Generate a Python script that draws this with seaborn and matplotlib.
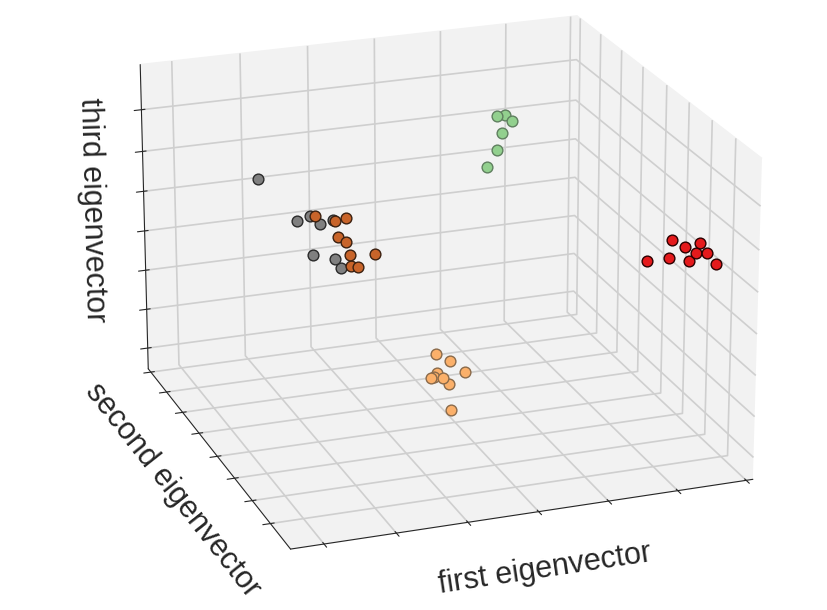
import numpy as np
import matplotlib
matplotlib.use("Agg")
import matplotlib.pyplot as plt
import seaborn as sns

# 3D 산점도 (첫째/둘째/셋째 고유벡터)
sns.set_style("ticks")
plt.rcParams['font.family'] = ['Liberation Sans', 'DejaVu Sans']

# 데이터 (축 범위 0~1 기준으로 읽은 값)
gray_x = [0.14, 0.21, 0.245, 0.27, 0.24, 0.30, 0.305, 0.31]
gray_y = [0.62, 0.58, 0.60, 0.61, 0.57, 0.60, 0.63, 0.59]
gray_z = [0.79, 0.665, 0.665, 0.63, 0.555, 0.515, 0.625, 0.49]

brown_x = [0.24, 0.28, 0.31, 0.29, 0.30, 0.32, 0.37, 0.33, 0.32]
brown_y = [0.55, 0.54, 0.56, 0.55, 0.53, 0.56, 0.55, 0.54, 0.56]
brown_z = [0.69, 0.67, 0.665, 0.615, 0.605, 0.51, 0.545, 0.515, 0.545]

orange_x = [0.415, 0.45, 0.475, 0.405, 0.425, 0.445, 0.445, 0.415, 0.43]
orange_y = [0.30, 0.31, 0.29, 0.30, 0.32, 0.30, 0.29, 0.31, 0.30]
orange_z = [0.35, 0.315, 0.285, 0.275, 0.275, 0.25, 0.17, 0.27, 0.27]

green_x = [0.70, 0.72, 0.73, 0.71, 0.70, 0.68]
green_y = [0.70, 0.71, 0.69, 0.70, 0.70, 0.71]
green_z = [0.855, 0.85, 0.84, 0.80, 0.745, 0.69]

red_x = [0.86, 0.91, 0.92, 0.94, 0.98, 0.97, 0.99, 0.96, 0.95]
red_y = [0.25, 0.25, 0.26, 0.24, 0.25, 0.25, 0.24, 0.26, 0.10]
red_z = [0.585, 0.585, 0.635, 0.62, 0.62, 0.59, 0.59, 0.56, 0.635]

x_ticks = [0.07, 0.2225, 0.375, 0.5275, 0.68, 0.8325, 0.985]
y_ticks = [0.13, 0.25, 0.37, 0.49, 0.62, 0.74, 0.86, 0.98]
z_ticks = [0.07, 0.20, 0.33, 0.46, 0.59, 0.72, 0.855]

groups = [
    (gray_x, gray_y, gray_z, '#808080', '#2a2a2a'),
    (brown_x, brown_y, brown_z, '#c8642a', '#3a2010'),
    (orange_x, orange_y, orange_z, '#fbb06a', '#8a6a4a'),
    (green_x, green_y, green_z, '#92d08e', '#5f7f5f'),
    (red_x, red_y, red_z, '#e41a1c', '#2a0000'),
]

fig = plt.figure(figsize=(8.28, 6.1), dpi=100)
ax = fig.add_axes([0.023, 0.0465, 1, 1], projection='3d')
ax.set_proj_type('persp', focal_length=1.3)
ax.view_init(elev=21, azim=-110)
ax.set_box_aspect((4, 4, 2.8), zoom=1.20)

for gx, gy, gz, fc, ec in groups:
    ax.scatter(gx, gy, gz, c=fc, edgecolors=ec, s=60, linewidths=1.0, depthshade=False)

ax.set_xlim(0, 1)
ax.set_ylim(0, 1)
ax.set_zlim(0, 1)
ax.set_xticks(x_ticks)
ax.set_yticks(y_ticks)
ax.set_zticks(z_ticks)
ax.set_xticklabels([])
ax.set_yticklabels([])
ax.set_zticklabels([])

for axis in (ax.xaxis, ax.yaxis, ax.zaxis):
    axis.set_pane_color((0.95, 0.95, 0.95, 1.0))
    axis._axinfo['grid']['color'] = '#cfcfcf'
    axis._axinfo['grid']['linewidth'] = 1.2
    axis._axinfo['axisline']['color'] = 'black'
    axis._axinfo['tick']['color'] = 'black'
ax.grid(True)

ax.set_xlabel('first eigenvector', fontsize=22, labelpad=4)
ax.set_ylabel('second eigenvector', fontsize=22, labelpad=1)
ax.set_zlabel('third eigenvector', fontsize=22, labelpad=0)

fig.savefig('out.png', dpi=100)
